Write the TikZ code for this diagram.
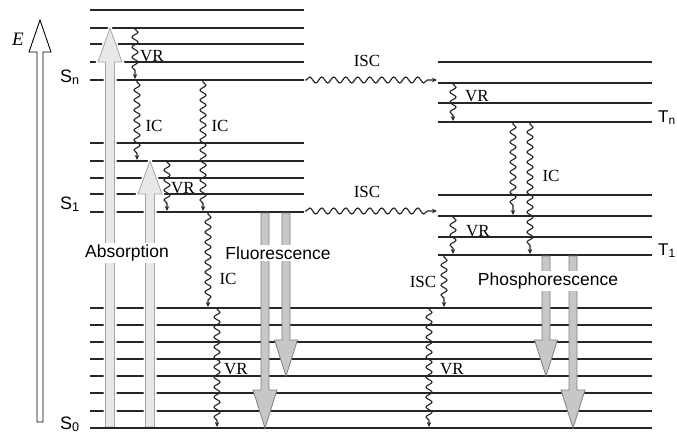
\documentclass[tikz,border=0pt]{standalone}
\usepackage{fontspec}
\setmainfont{Liberation Serif}
\newfontfamily\arialf{Liberation Sans}
\usetikzlibrary{decorations.pathmorphing,arrows.meta}
\newcommand{\bigarrow}[7]{%
  \path[#1] ({#2-#6},#3) -- ({#2-#6},#4) -- ({#2-#7},#4) -- (#2,#5) -- ({#2+#7},#4) -- ({#2+#6},#4) -- ({#2+#6},#3) -- cycle;}
\tikzset{
  lvl/.style={line width=1.6pt, draw=black!85},
  lvlthick/.style={line width=2.9pt, draw=black!85},
  wavy/.style={draw=black!85, line width=1.15pt, decorate,
    decoration={snake, amplitude=3pt, segment length=10pt, pre length=1pt, post length=5pt},
    -{Stealth[length=5pt,width=4.5pt]}},
  wavyh/.style={wavy, decoration={snake, amplitude=3pt, segment length=12pt, pre length=1pt, post length=5pt}},
  lab/.style={font=\fontsize{17}{17}\selectfont, inner sep=0pt},
  biglab/.style={font=\arialf\fontsize{17.5}{17.5}\selectfont, fill=white, inner sep=2pt},
  slab/.style={font=\arialf\fontsize{18}{18}\selectfont, inner sep=0pt, anchor=base west},
  absborder/.style={draw=white, line width=4pt},
  absarr/.style={fill=black!9, draw=black!35, line width=0.8pt},
  emarr/.style={fill=black!22, draw=black!50, line width=0.8pt},
  earr/.style={fill=white, draw=black, line width=0.9pt},
}
\begin{document}
\begin{tikzpicture}[x=1pt,y=-1pt]
\useasboundingbox (0,0) rectangle (677,437);
\clip (0,0) rectangle (677,437);
% singlet upper block
\draw[lvlthick] (90,10) -- (304,10);
\foreach \y in {28,44,62} \draw[lvl] (90,\y) -- (304,\y);
\draw[lvlthick] (90,80) -- (304,80);
% S1 block
\foreach \y in {143,161,178,194} \draw[lvl] (90,\y) -- (304,\y);
\draw[lvlthick] (90,212) -- (304,212);
% S0 block
\foreach \y in {308,325,342,359,376,393,411} \draw[lvl] (90,\y) -- (652,\y);
% triplet
\foreach \y in {62,83,103,195,216,237} \draw[lvl] (438,\y) -- (652,\y);
\draw[lvlthick] (438,122) -- (652,122);
\draw[lvlthick] (438,255) -- (652,255);
% energy axis
\bigarrow{earr}{40}{422}{52}{20}{3}{11}
\node[font=\fontsize{19}{19}\selectfont\itshape, inner sep=0pt, anchor=base west] (E) at (12,45) {E};
% absorption arrows
\bigarrow{absborder}{110}{427}{62}{28}{4.5}{12}
\bigarrow{absborder}{150}{427}{194}{161}{4.5}{12}
\bigarrow{absarr}{110}{427}{62}{28}{4.5}{12}
\bigarrow{absarr}{150}{427}{194}{161}{4.5}{12}
\draw[lvlthick] (90,428) -- (652,428);
% fluorescence / phosphorescence arrows
\bigarrow{emarr}{265}{213}{390}{428}{4}{12}
\bigarrow{emarr}{286}{213}{340}{376}{4}{11.5}
\bigarrow{emarr}{546}{256}{340}{376}{4}{11.5}
\bigarrow{emarr}{573}{256}{390}{428}{4}{12}
% wavy transitions
\draw[wavy] (135,28) -- (135,79);
\draw[wavy] (137,81) -- (137,160);
\draw[wavy] (203,81) -- (203,211);
\draw[wavy] (167,161) -- (167,211);
\draw[wavy] (208,213) -- (208,307);
\draw[wavy] (217,308) -- (217,427);
\draw[wavyh] (305,80) -- (437,80);
\draw[wavyh] (305,211) -- (437,211);
\draw[wavy] (453,83) -- (453,121);
\draw[wavy] (513,123) -- (513,215);
\draw[wavy] (530,123) -- (530,254);
\draw[wavy] (453,216) -- (453,254);
\draw[wavy] (444,256) -- (444,307);
\draw[wavy] (429,308) -- (429,427);
% small labels
\node[lab] (vr1) at (152,56) {VR};
\node[lab] (ic1) at (154,126) {IC};
\node[lab] (ic2) at (220,126) {IC};
\node[lab] (vr2) at (183,188) {VR};
\node[lab] (ic3) at (228,279) {IC};
\node[lab] (vr3) at (236,369) {VR};
\node[lab] (isc1) at (367,61) {ISC};
\node[lab] (isc2) at (367,192) {ISC};
\node[lab] (vr4) at (477,96) {VR};
\node[lab] (ic4) at (551,176) {IC};
\node[lab] (vr5) at (478,231) {VR};
\node[lab] (isc3) at (423,282) {ISC};
\node[lab] (vr6) at (452,369) {VR};
% big labels
\node[biglab] (abs) at (127,253) {Absorption};
\node[biglab] (flu) at (278,253) {Fluorescence};
\node[biglab] (pho) at (548,281) {Phosphorescence};
% state labels
\node[slab] (Sn) at (60,82) {S\textsubscript{n}};
\node[slab] (S1) at (60,209) {S\textsubscript{1}};
\node[slab] (S0) at (60,429) {S\textsubscript{0}};
\node[slab, font=\arialf\fontsize{17}{17}\selectfont] (Tn) at (658,122) {T\textsubscript{n}};
\node[slab, font=\arialf\fontsize{17}{17}\selectfont] (T1) at (658,255) {T\textsubscript{1}};
\end{tikzpicture}
\end{document}
